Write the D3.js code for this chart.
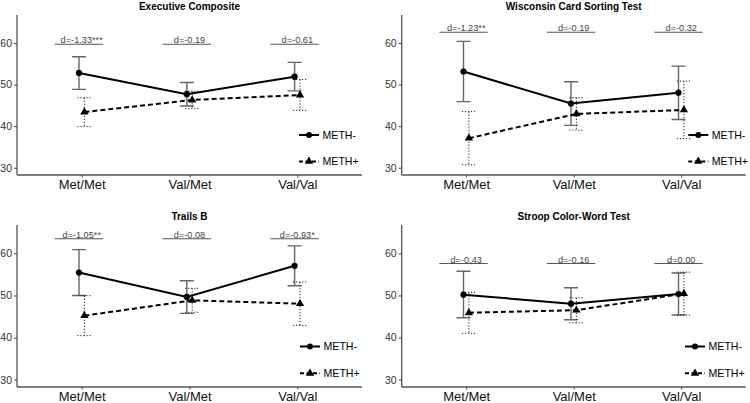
<!DOCTYPE html>
<html><head><meta charset="utf-8">
<script src="https://cdn.jsdelivr.net/npm/d3@7"></script>
<style>body{margin:0;background:#fff;}svg{display:block;}</style>
</head><body>
<svg id="c" width="750" height="403"></svg>
<script>
const categories = ["Met/Met","Val/Met","Val/Val"];
const yTicks = [30,40,50,60];
const seriesNames = ["METH-","METH+"];
const titles = ["Executive Composite","Wisconsin Card Sorting Test","Trails B","Stroop Color-Word Test"];

// Executive Composite
const execNegMean = [52.8, 47.7, 51.9];
const execNegLo   = [48.85, 44.85, 48.5];
const execNegHi   = [56.7, 50.5, 55.35];
const execPosMean = [43.4, 46.3, 47.5];
const execPosLo   = [39.9, 44.2, 43.8];
const execPosHi   = [46.85, 48.4, 51.25];
const execD       = ["d=-1.33***","d=-0.19","d=-0.61"];
const execDY      = 59.7;

// Wisconsin Card Sorting Test
const wcstNegMean = [53.15, 45.45, 48.05];
const wcstNegLo   = [45.9, 40.2, 41.6];
const wcstNegHi   = [60.4, 50.7, 54.45];
const wcstPosMean = [37.1, 42.95, 43.9];
const wcstPosLo   = [30.7, 39.05, 37.0];
const wcstPosHi   = [43.5, 46.85, 50.85];
const wcstD       = ["d=-1.23**","d=-0.19","d=-0.32"];
const wcstDY      = 62.6;

// Trails B
const trailsNegMean = [55.45, 49.65, 57.05];
const trailsNegLo   = [50.0, 45.75, 52.3];
const trailsNegHi   = [60.9, 53.5, 61.8];
const trailsPosMean = [45.2, 48.85, 48.05];
const trailsPosLo   = [40.45, 46.0, 42.9];
const trailsPosHi   = [49.95, 51.7, 53.2];
const trailsD       = ["d=-1.05**","d=-0.08","d=-0.93*"];
const trailsDY      = 63.5;

// Stroop Color-Word Test
const stroopNegMean = [50.2, 48.05, 50.35];
const stroopNegLo   = [44.7, 44.25, 45.35];
const stroopNegHi   = [55.75, 51.85, 55.35];
const stroopPosMean = [45.9, 46.5, 50.45];
const stroopPosLo   = [41.0, 43.5, 45.35];
const stroopPosHi   = [50.75, 49.45, 55.55];
const stroopD       = ["d=-0.43","d=-0.16","d=0.00"];
const stroopDY      = 57.6;

const panels = [
  {title: titles[0], neg:[execNegMean,execNegLo,execNegHi], pos:[execPosMean,execPosLo,execPosHi], d:execD, dy:execDY,
   box:{l:17,r:362,t:15,b:175}, legX:63},
  {title: titles[1], neg:[wcstNegMean,wcstNegLo,wcstNegHi], pos:[wcstPosMean,wcstPosLo,wcstPosHi], d:wcstD, dy:wcstDY,
   box:{l:401.7,r:745.7,t:15,b:175}, legX:57.4},
  {title: titles[2], neg:[trailsNegMean,trailsNegLo,trailsNegHi], pos:[trailsPosMean,trailsPosLo,trailsPosHi], d:trailsD, dy:trailsDY,
   box:{l:17,r:362,t:225,b:387}, legX:62},
  {title: titles[3], neg:[stroopNegMean,stroopNegLo,stroopNegHi], pos:[stroopPosMean,stroopPosLo,stroopPosHi], d:stroopD, dy:stroopDY,
   box:{l:401.7,r:745.7,t:225,b:387}, legX:60.7}
];

const FONT = "'Liberation Sans', Arial, Helvetica, sans-serif";
const svg = d3.select("#c");
const dodge = 2.7;

panels.forEach(p => {
  const B = p.box;
  const g = svg.append("g");
  const x = d3.scalePoint().domain(categories).range([B.l, B.r]).padding(0.6);
  const y = d3.scaleLinear().domain([28.25, 66.75]).range([B.b, B.t]);

  // title
  g.append("text").attr("x", (B.l + B.r)/2).attr("y", B.t - 5.5)
    .attr("text-anchor","middle").attr("font-family",FONT).attr("font-weight","bold")
    .attr("font-size",10).attr("fill","#000").text(p.title);

  // y axis
  const ya = g.append("g").attr("transform",`translate(${B.l},0)`)
    .call(d3.axisLeft(y).tickValues(yTicks).tickSize(3).tickPadding(2).tickFormat(d3.format("d")));
  ya.select(".domain").attr("stroke","#555").attr("stroke-width",1.3).attr("d",`M0,${B.t}V${B.b}`);
  ya.selectAll(".tick line").attr("stroke","#444").attr("stroke-width",1);
  ya.selectAll(".tick text").attr("font-family",FONT).attr("font-size",10.5).attr("fill","#333");

  // x axis
  const xa = g.append("g").attr("transform",`translate(0,${B.b})`)
    .call(d3.axisBottom(x).tickSize(2.5).tickPadding(2));
  xa.select(".domain").attr("stroke","#555").attr("stroke-width",1.3).attr("d",`M${B.l},0H${B.r}`);
  xa.selectAll(".tick line").attr("stroke","#444").attr("stroke-width",1);
  xa.selectAll(".tick text").attr("font-family",FONT).attr("font-size",13).attr("fill","#111");

  // d annotations
  const step = x.step();
  categories.forEach((c,i) => {
    const cx = x(c);
    g.append("line").attr("x1", cx - 0.25*step).attr("x2", cx + 0.2*step)
      .attr("y1", y(p.dy)).attr("y2", y(p.dy)).attr("stroke","#555").attr("stroke-width",1.1);
    g.append("text").attr("x", cx).attr("y", y(p.dy) - 0.8).attr("text-anchor","middle")
      .attr("font-family",FONT).attr("font-size",9.2).attr("fill","#444").text(p.d[i]);
  });

  const cap = 7;
  // error bars
  const drawErr = (arr, off, stroke, width, dash) => {
    categories.forEach((c,i) => {
      const cx = x(c) + off;
      const path = `M${cx-cap},${y(arr[2][i])}H${cx+cap}M${cx},${y(arr[2][i])}V${y(arr[1][i])}M${cx-cap},${y(arr[1][i])}H${cx+cap}`;
      g.append("path").attr("d",path).attr("fill","none").attr("stroke",stroke)
        .attr("stroke-width",width).attr("stroke-dasharray",dash);
    });
  };
  drawErr(p.neg, -dodge, "#666", 1.4, null);
  drawErr(p.pos, dodge, "#222", 1.0, "1.2,1.8");

  // lines
  const line = off => d3.line().x((d,i) => x(categories[i]) + off).y(d => y(d));
  g.append("path").datum(p.neg[0]).attr("d", line(-dodge)).attr("fill","none")
    .attr("stroke","#000").attr("stroke-width",2);
  g.append("path").datum(p.pos[0]).attr("d", line(dodge)).attr("fill","none")
    .attr("stroke","#000").attr("stroke-width",2).attr("stroke-dasharray","5,3");

  // points
  categories.forEach((c,i) => {
    g.append("circle").attr("cx", x(c)-dodge).attr("cy", y(p.neg[0][i])).attr("r",3.1).attr("fill","#000");
    g.append("path").attr("d", d3.symbol(d3.symbolTriangle, 30)())
      .attr("transform",`translate(${x(c)+dodge},${y(p.pos[0][i])})`).attr("fill","#000");
  });

  // legend
  const lx = B.r - p.legX;
  const ly1 = B.t + (B.b - B.t)*0.75, ly2 = B.t + (B.b - B.t)*0.915;
  [[ly1, null, "circle"], [ly2, "4,2.5", "tri"]].forEach((L, k) => {
    g.append("line").attr("x1", lx).attr("x2", lx+20).attr("y1", L[0]).attr("y2", L[0])
      .attr("stroke","#000").attr("stroke-width",2).attr("stroke-dasharray", L[1]);
    if (L[2] === "circle") g.append("circle").attr("cx", lx+10).attr("cy", L[0]).attr("r",3).attr("fill","#000");
    else g.append("path").attr("d", d3.symbol(d3.symbolTriangle, 30)()).attr("transform",`translate(${lx+10},${L[0]})`).attr("fill","#000");
    g.append("text").attr("x", lx+23.5).attr("y", L[0]).attr("dy","0.36em")
      .attr("font-family",FONT).attr("font-size",10.6).attr("fill","#000").text(seriesNames[k]);
  });
});
</script>
</body></html>
